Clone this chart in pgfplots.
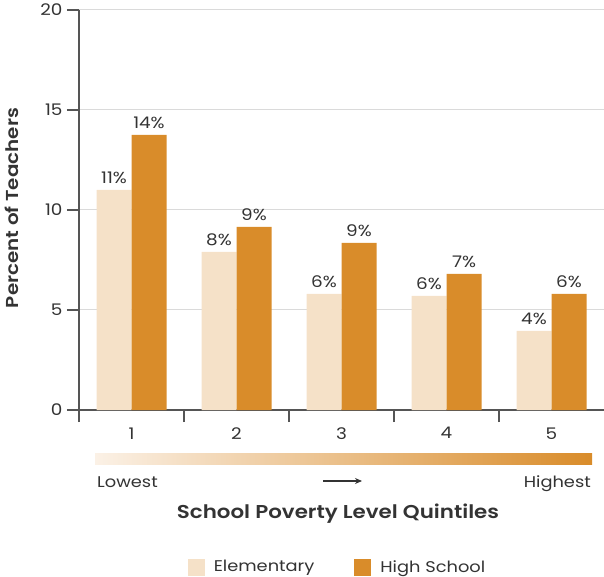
\documentclass[border=0pt]{standalone}
\usepackage{fontspec}
\setmainfont{Poppins}[FakeStretch=1.15, BoldFont={Poppins SemiBold}, BoldFeatures={FakeStretch=1.15}]
\usepackage{pgfplots}
\pgfplotsset{compat=1.18}
\usetikzlibrary{arrows.meta}
\definecolor{elem}{HTML}{F5E1C8}
\definecolor{hs}{HTML}{D98C2A}
\definecolor{txt}{HTML}{333333}
\definecolor{axc}{HTML}{555555}
\definecolor{gridc}{HTML}{DADADA}
\definecolor{gradL}{HTML}{FBF1E6}
\newcommand\bodyfont{\fontsize{15.5bp}{18bp}\selectfont}
\begin{document}
\begin{tikzpicture}[x=1bp,y=1bp,font=\bodyfont,text=txt]
\path[use as bounding box] (-79,-167) rectangle (525,410);
\begin{axis}[
  at={(0,0)}, anchor=south west,
  scale only axis, width=525bp, height=400bp,
  xmin=0.5, xmax=5.5, ymin=0, ymax=20,
  ybar=0pt, bar width=35bp,
  axis x line*=bottom, axis y line*=left,
  axis line style={-, draw=axc, line width=1.5bp},
  ytick={0,5,10,15,20},
  xtick={0.5,1.5,2.5,3.5,4.5},
  xticklabels={1,2,3,4,5},
  x tick label style={xshift=52.5bp, yshift=-2bp},
  y tick label style={xshift=-1bp},
  tick align=outside, major tick length=12bp,
  tick style={draw=axc, line width=1.5bp},
  ymajorgrids, grid style={draw=gridc, line width=1bp},
  /pgf/number format/assume math mode=true,
  ticklabel style={font=\fontsize{16bp}{18bp}\selectfont, text=txt},
  clip=false,
  legend style={at={(axis description cs:0.5,0)}, anchor=center, yshift=-157bp, xshift=-4bp,
    draw=none, fill=none, font=\bodyfont, text=txt,
    /tikz/every odd column/.append style={column sep=7bp},
    /tikz/every even column/.append style={column sep=38bp}},
  legend columns=2,
  nodes near coords={\pgfplotspointmeta\%},
  point meta=explicit symbolic,
  every node near coord/.append style={anchor=south, inner sep=0pt, yshift=6bp, font=\fontsize{16bp}{18bp}\selectfont, text=txt},
]
\addplot[fill=elem, draw=none, legend image code/.code={\fill[elem] (0bp,-8.5bp) rectangle (17bp,8.5bp);}] table[meta=lab] {
x y lab
1 11.0 11
2 7.9 8
3 5.8 6
4 5.7 6
5 3.95 4
};
\addlegendentry{Elementary}
\addplot[fill=hs, draw=none, legend image code/.code={\fill[hs] (0bp,-8.5bp) rectangle (17bp,8.5bp);}] table[meta=lab] {
x y lab
1 13.75 14
2 9.15 9
3 8.35 9
4 6.8 7
5 5.8 6
};
\addlegendentry{High School}
\end{axis}
\node[rotate=90, font=\fontsize{17.3bp}{20bp}\selectfont\bfseries] at (-67,202) {Percent of Teachers};
\shade[left color=gradL, right color=hs] (16,-44) rectangle (513,-55);
\node[anchor=base west, inner sep=0pt] at (18,-77) {Lowest};
\node[anchor=base east, inner sep=0pt] at (512,-77) {Highest};
\draw[-{Stealth[length=7bp,width=6bp]}, line width=1.2bp, draw=txt] (244,-71) -- (283,-71);
\node[font=\fontsize{18.6bp}{22bp}\selectfont\bfseries] at (259,-104) {School Poverty Level Quintiles};
\end{tikzpicture}
\end{document}
